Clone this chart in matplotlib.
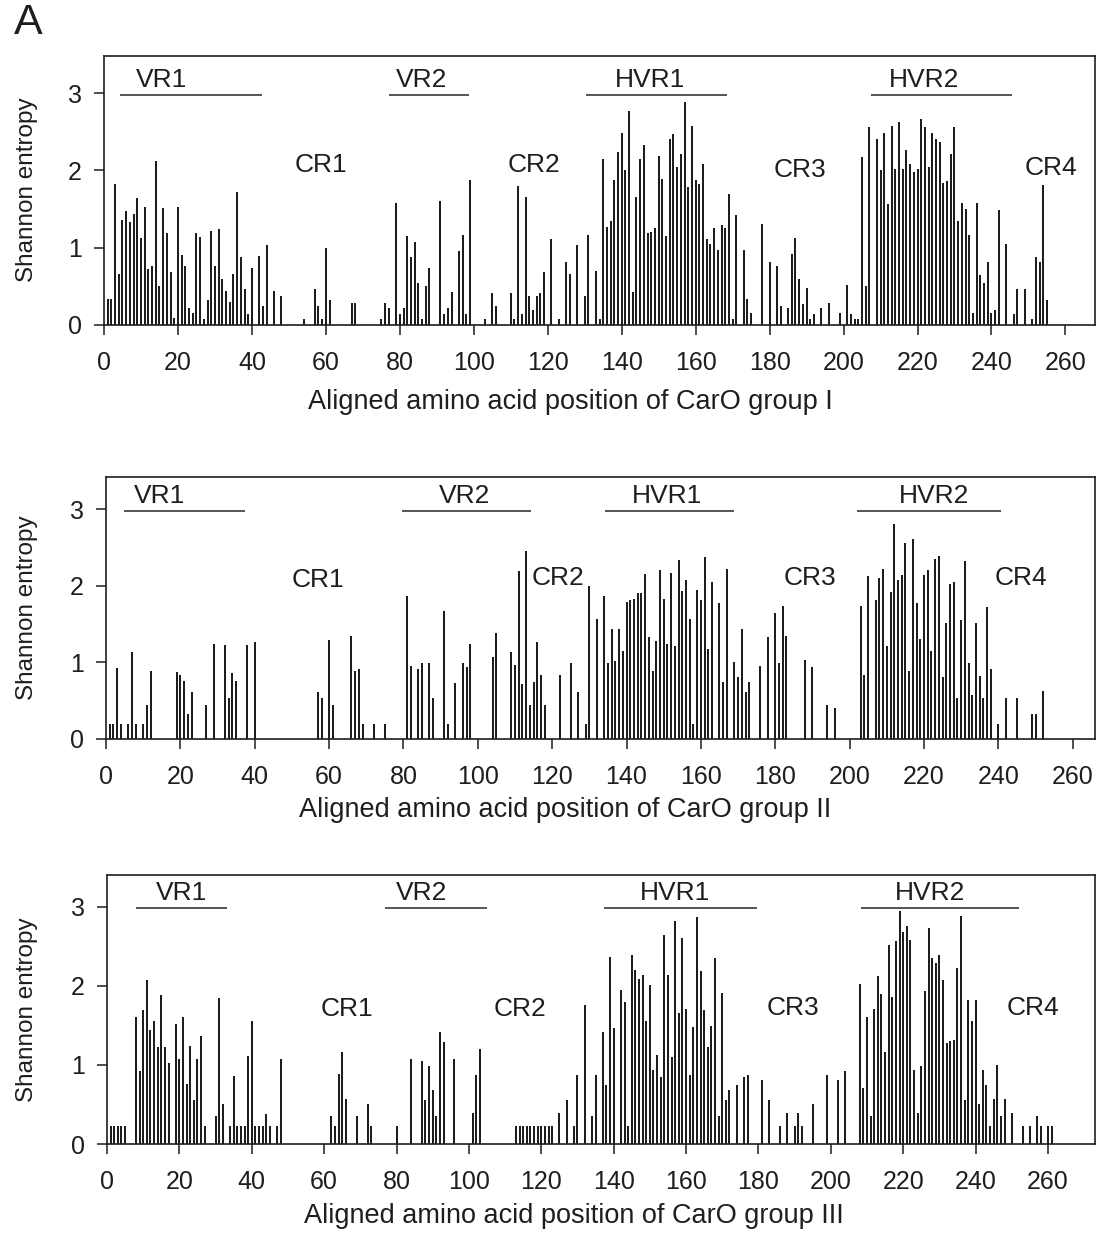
import matplotlib
matplotlib.use("Agg")
import matplotlib.pyplot as plt

plt.rcParams['font.family'] = ['Liberation Sans', 'DejaVu Sans']

# ---------------- data ----------------
g1_pos = [1, 2, 3, 4, 5, 6, 7, 8, 9, 10, 11, 12, 13, 14, 15, 16, 17, 18, 19, 20,
          21, 22, 23, 24, 25, 26, 27, 28, 29, 30, 31, 32, 33, 34, 35, 36, 37, 38, 39, 40,
          42, 43, 44, 46, 48, 54, 57, 58, 59, 60, 61, 67, 68, 75, 76, 77, 79, 80, 81, 82,
          83, 84, 85, 86, 87, 88, 91, 92, 93, 94, 96, 97, 98, 99, 103, 105, 106, 110, 111, 112,
          113, 114, 115, 116, 117, 118, 119, 121, 123, 125, 126, 128, 130, 131, 133, 134, 135, 136, 137, 138,
          139, 140, 141, 142, 143, 144, 145, 146, 147, 148, 149, 150, 151, 152, 153, 154, 155, 156, 157, 158,
          159, 160, 161, 162, 163, 164, 165, 166, 167, 168, 169, 170, 171, 173, 174, 175, 178, 180, 182, 183,
          185, 186, 187, 188, 189, 190, 191, 192, 194, 196, 199, 201, 202, 203, 204, 205, 206, 207, 209, 210,
          211, 212, 213, 214, 215, 216, 217, 218, 219, 220, 221, 222, 223, 224, 225, 226, 227, 228, 229, 230,
          231, 232, 233, 234, 235, 236, 237, 238, 239, 240, 241, 242, 244, 246, 247, 249, 251, 252, 253, 254,
          255]
g1_val = [0.33, 0.33, 1.82, 0.66, 1.36, 1.48, 1.33, 1.44, 1.64, 1.12, 1.53, 0.72, 0.76, 2.12, 0.51, 1.51, 1.19, 0.68, 0.09, 1.53,
          0.91, 0.76, 0.22, 0.16, 1.19, 1.14, 0.08, 0.32, 1.21, 0.76, 1.24, 0.60, 0.44, 0.30, 0.66, 1.72, 0.88, 0.46, 0.14, 0.74,
          0.89, 0.24, 1.04, 0.44, 0.37, 0.08, 0.46, 0.24, 0.08, 1.00, 0.32, 0.29, 0.29, 0.08, 0.29, 0.22, 1.58, 0.14, 0.22, 1.15,
          0.88, 1.07, 0.54, 0.08, 0.51, 0.74, 1.61, 0.14, 0.22, 0.43, 0.96, 1.17, 0.14, 1.87, 0.08, 0.41, 0.24, 0.41, 0.08, 1.80,
          0.14, 1.65, 0.37, 0.19, 0.38, 0.41, 0.69, 1.11, 0.08, 0.82, 0.66, 1.03, 0.37, 1.17, 0.70, 0.08, 2.15, 1.27, 1.34, 1.87,
          2.24, 2.49, 2.01, 2.77, 0.43, 1.65, 2.15, 2.33, 1.19, 1.20, 1.25, 2.18, 1.89, 1.15, 2.40, 2.47, 2.05, 2.21, 2.88, 1.79,
          2.57, 1.88, 1.83, 2.08, 1.11, 1.05, 1.25, 0.97, 1.30, 1.26, 1.69, 0.08, 1.42, 0.97, 0.33, 0.16, 1.31, 0.82, 0.76, 0.24,
          0.22, 0.92, 1.13, 0.60, 0.27, 0.48, 0.08, 0.14, 0.22, 0.28, 0.16, 0.52, 0.14, 0.08, 0.08, 2.17, 0.50, 2.56, 2.40, 2.00,
          2.48, 1.56, 2.58, 2.02, 2.62, 2.02, 2.27, 2.08, 1.98, 2.02, 2.66, 2.56, 2.04, 2.49, 2.40, 2.37, 1.84, 1.86, 2.21, 2.56,
          1.35, 1.58, 1.50, 1.16, 0.16, 1.58, 0.65, 0.54, 0.82, 0.16, 0.19, 1.49, 1.05, 0.14, 0.47, 0.47, 0.08, 0.88, 0.82, 1.81,
          0.32]

g2_pos = [1, 2, 3, 4, 6, 7, 8, 10, 11, 12, 19, 20, 21, 22, 23, 27, 29, 32, 33, 34,
          35, 38, 40, 57, 58, 60, 61, 66, 67, 68, 69, 72, 75, 81, 82, 84, 85, 87, 88, 91,
          92, 94, 96, 97, 98, 104, 105, 109, 110, 111, 112, 113, 114, 115, 116, 117, 118, 122, 125, 127,
          129, 130, 132, 134, 135, 136, 137, 138, 139, 140, 141, 142, 143, 144, 145, 146, 147, 148, 149, 150,
          151, 152, 153, 154, 155, 156, 157, 158, 159, 160, 161, 162, 163, 165, 166, 167, 169, 170, 171, 172,
          173, 176, 178, 180, 181, 182, 183, 188, 190, 194, 196, 203, 204, 205, 207, 208, 209, 210, 211, 212,
          213, 214, 215, 216, 217, 218, 219, 220, 221, 222, 223, 224, 225, 226, 227, 228, 229, 230, 231, 232,
          233, 234, 235, 236, 237, 238, 240, 242, 245, 249, 250, 252]
g2_val = [0.20, 0.20, 0.93, 0.20, 0.20, 1.14, 0.20, 0.20, 0.44, 0.89, 0.87, 0.84, 0.76, 0.33, 0.61, 0.44, 1.24, 1.23, 0.53, 0.86,
          0.76, 1.23, 1.27, 0.62, 0.53, 1.29, 0.44, 1.35, 0.89, 0.91, 0.20, 0.20, 0.20, 1.87, 0.95, 0.92, 0.99, 0.99, 0.53, 1.67,
          0.20, 0.73, 0.99, 0.94, 1.24, 1.07, 1.38, 1.13, 0.97, 2.19, 0.72, 2.46, 0.44, 0.75, 1.27, 0.84, 0.44, 0.84, 0.99, 0.61,
          0.20, 2.00, 1.56, 1.87, 0.99, 1.44, 1.02, 1.43, 1.15, 1.79, 1.81, 1.83, 1.90, 1.90, 2.16, 1.33, 0.89, 1.28, 2.20, 1.83,
          1.24, 2.17, 1.22, 2.34, 1.93, 2.08, 1.56, 0.20, 1.95, 1.82, 2.37, 1.18, 2.05, 1.77, 0.75, 2.22, 1.00, 0.81, 1.44, 0.61,
          0.75, 0.95, 1.33, 1.64, 0.99, 1.73, 1.35, 1.03, 0.94, 0.44, 0.40, 1.74, 0.84, 2.13, 1.81, 2.10, 2.22, 1.21, 1.92, 2.80,
          2.08, 2.14, 2.56, 0.89, 2.61, 1.77, 1.30, 2.14, 2.20, 1.15, 2.35, 2.39, 0.81, 1.51, 2.02, 2.05, 0.53, 1.55, 2.33, 0.99,
          0.57, 1.52, 0.82, 0.53, 1.72, 0.92, 0.19, 0.53, 0.53, 0.33, 0.33, 0.63]

g3_pos = [1, 2, 3, 4, 5, 8, 9, 10, 11, 12, 13, 14, 15, 16, 17, 19, 20, 21, 22, 23,
          24, 25, 26, 27, 30, 31, 32, 34, 35, 36, 37, 38, 39, 40, 41, 42, 43, 44, 45, 47,
          48, 62, 63, 64, 65, 66, 69, 72, 73, 80, 84, 87, 88, 89, 90, 91, 92, 93, 96, 101,
          102, 103, 113, 114, 115, 116, 117, 118, 119, 120, 121, 122, 123, 125, 127, 129, 130, 132, 134, 135,
          137, 138, 139, 140, 142, 143, 144, 145, 146, 147, 148, 149, 150, 151, 152, 153, 154, 155, 156, 157,
          158, 159, 160, 161, 162, 163, 164, 165, 166, 167, 168, 169, 170, 171, 172, 174, 176, 177, 181, 183,
          186, 188, 190, 191, 192, 195, 199, 202, 204, 208, 209, 210, 211, 212, 213, 214, 215, 216, 217, 218,
          219, 220, 221, 222, 223, 224, 225, 226, 227, 228, 229, 230, 231, 232, 233, 234, 235, 236, 237, 238,
          239, 240, 241, 242, 243, 244, 245, 246, 247, 248, 250, 253, 255, 257, 258, 260, 261]
g3_val = [0.23, 0.23, 0.23, 0.23, 0.23, 1.60, 0.92, 1.70, 2.07, 1.44, 1.55, 1.23, 1.88, 1.23, 1.03, 1.52, 1.08, 1.61, 0.76, 1.24,
          0.55, 1.08, 1.37, 0.23, 0.36, 1.85, 0.50, 0.23, 0.86, 0.23, 0.23, 0.23, 1.11, 1.55, 0.23, 0.23, 0.23, 0.38, 0.23, 0.23,
          1.08, 0.36, 0.23, 0.89, 1.16, 0.57, 0.36, 0.50, 0.23, 0.23, 1.07, 1.05, 0.55, 0.99, 0.68, 0.36, 1.42, 1.29, 1.08, 0.39,
          0.87, 1.20, 0.23, 0.23, 0.23, 0.23, 0.23, 0.23, 0.23, 0.23, 0.23, 0.23, 0.23, 0.39, 0.55, 0.23, 0.87, 1.76, 0.36, 0.87,
          1.42, 0.74, 2.36, 1.47, 1.95, 1.79, 0.23, 2.39, 2.20, 2.09, 2.14, 1.55, 2.01, 0.94, 1.13, 0.85, 2.64, 2.14, 1.10, 2.82,
          1.65, 2.60, 1.71, 0.87, 1.48, 2.87, 2.19, 1.69, 1.23, 1.49, 2.35, 0.36, 1.91, 0.55, 0.68, 0.75, 0.85, 0.87, 0.81, 0.55,
          0.23, 0.39, 0.23, 0.39, 0.23, 0.50, 0.87, 0.81, 0.92, 2.02, 0.71, 1.60, 0.36, 1.71, 2.12, 1.89, 1.16, 2.51, 1.86, 2.56,
          2.94, 2.68, 2.76, 2.58, 0.93, 0.39, 0.98, 1.94, 2.73, 2.35, 2.29, 2.39, 2.07, 1.28, 1.30, 1.32, 2.22, 2.88, 0.55, 1.82,
          1.55, 1.82, 0.50, 0.94, 0.74, 0.23, 0.57, 1.00, 0.36, 0.57, 0.39, 0.23, 0.23, 0.36, 0.23, 0.23, 0.23]

# Region annotations (variable regions with bar, conserved regions as text)
vr_names = ["VR1", "VR2", "HVR1", "HVR2"]
g1_vr_start = [4.3, 77.0, 130.4, 207.3]
g1_vr_end = [42.8, 98.6, 168.5, 245.6]
g1_vr_text = [15.6, 86.0, 147.6, 221.7]
g2_vr_start = [4.8, 79.7, 134.3, 202.0]
g2_vr_end = [37.5, 114.4, 168.9, 240.7]
g2_vr_text = [14.5, 96.5, 150.9, 222.8]
g3_vr_start = [7.9, 76.8, 137.3, 208.3]
g3_vr_end = [33.1, 105.1, 179.5, 251.9]
g3_vr_text = [20.6, 87.0, 157.0, 227.5]

cr_names = ["CR1", "CR2", "CR3", "CR4"]
g1_cr_x = [58.8, 116.3, 188.1, 256.0]
g1_cr_y = [2.07, 2.07, 2.00, 2.03]
g2_cr_x = [57.1, 121.6, 189.2, 246.1]
g2_cr_y = [2.08, 2.10, 2.10, 2.10]
g3_cr_x = [66.2, 114.1, 189.5, 255.8]
g3_cr_y = [1.70, 1.70, 1.72, 1.72]

xticks = list(range(0, 261, 20))
yticks = [0, 1, 2, 3]
xlabels = ["Aligned amino acid position of CarO group I",
           "Aligned amino acid position of CarO group II",
           "Aligned amino acid position of CarO group III"]

# ---------------- layout ----------------
W, H = 1097, 1243
fig = plt.figure(figsize=(W / 100, H / 100), dpi=100)

def ax_rect(l, r, t, b):
    return [l / W, 1 - b / H, (r - l) / W, (b - t) / H]

panels = [
    dict(rect=ax_rect(104, 1095, 56, 325), xlim=268, ylim=3.48, pos=g1_pos, val=g1_val,
         vs=g1_vr_start, ve=g1_vr_end, vt=g1_vr_text, crx=g1_cr_x, cry=g1_cr_y,
         xl=xlabels[0], xly=402, xlx=570, yly=190),
    dict(rect=ax_rect(106, 1095, 477, 739), xlim=266, ylim=3.42, pos=g2_pos, val=g2_val,
         vs=g2_vr_start, ve=g2_vr_end, vt=g2_vr_text, crx=g2_cr_x, cry=g2_cr_y,
         xl=xlabels[1], xly=810, xlx=565, yly=608),
    dict(rect=ax_rect(107, 1095, 875, 1144), xlim=273, ylim=3.40, pos=g3_pos, val=g3_val,
         vs=g3_vr_start, ve=g3_vr_end, vt=g3_vr_text, crx=g3_cr_x, cry=g3_cr_y,
         xl=xlabels[2], xly=1216, xlx=574, yly=1010),
]

dark = "#1e1e1e"
for p in panels:
    ax = fig.add_axes(p["rect"])
    ax.vlines(p["pos"], 0, p["val"], colors=dark, linewidth=1.45, snap=True)
    ax.set_xlim(0, p["xlim"])
    ax.set_ylim(0, p["ylim"])
    ax.set_xticks(xticks)
    ax.set_yticks(yticks)
    ax.tick_params(axis='both', direction='out', length=7, width=1.1, color=dark,
                   labelsize=18, labelcolor=dark)
    ax.tick_params(axis='x', pad=12)
    ax.tick_params(axis='y', pad=9)
    for s in ax.spines.values():
        s.set_linewidth(1.2)
        s.set_color(dark)
    for name, a, b, t in zip(vr_names, p["vs"], p["ve"], p["vt"]):
        ax.plot([a, b], [2.98, 2.98], color="#555555", lw=1.4, solid_capstyle='butt')
        ax.text(t, 3.17, name, ha='center', va='center', fontsize=19, color=dark)
    for name, x, y in zip(cr_names, p["crx"], p["cry"]):
        ax.text(x, y, name, ha='center', va='center', fontsize=19, color=dark)
    fig.text(p["xlx"] / W, 1 - p["xly"] / H, p["xl"], ha='center', va='center',
             fontsize=19.5, color=dark)
    fig.text(27 / W, 1 - p["yly"] / H, "Shannon entropy", rotation=90,
             ha='center', va='center', fontsize=17.5, color=dark)

fig.text(28 / W, 1 - 23 / H, "A", ha='center', va='center', fontsize=31, color=dark)

fig.savefig("out.png", dpi=100)
